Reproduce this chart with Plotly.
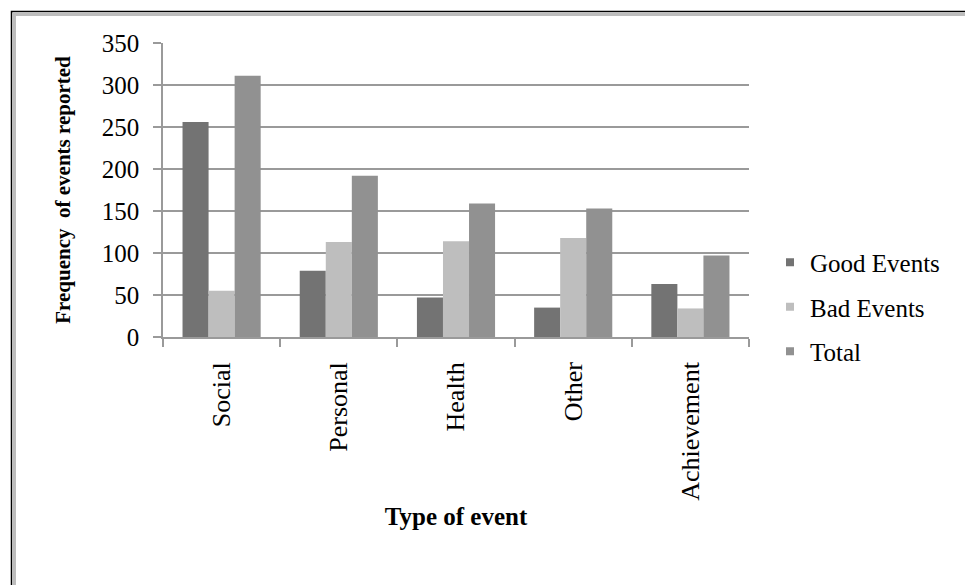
import plotly.graph_objects as go

categories = ["Social", "Personal", "Health", "Other", "Achievement"]
good_events = [256, 79, 47, 35, 63]
bad_events = [55, 113, 114, 118, 34]
total_events = [311, 192, 159, 153, 97]
series_names = ["Good Events", "Bad Events", "Total"]
series_colors = ["#737373", "#bebebe", "#919191"]
y_ticks = [0, 50, 100, 150, 200, 250, 300, 350]

W, H = 965, 585
L, R, T, B = 163, 216, 43, 248
pw, ph = W - L - R, H - T - B

def px_x(p):
    return (p - L) / pw

def px_y(p):
    return (H - B - p) / ph

FONT = "Liberation Serif, Times New Roman, serif"

fig = go.Figure()
for name, vals, col in zip(series_names, [good_events, bad_events, total_events], series_colors):
    fig.add_trace(go.Bar(x=categories, y=vals, name=name, marker_color=col,
                         marker_line_width=0, showlegend=False))
    fig.add_trace(go.Scatter(x=[None], y=[None], mode="markers", name=name,
                             legendgroup=name,
                             marker=dict(symbol="square", size=8, color=col)))

fig.update_layout(
    width=W, height=H,
    margin=dict(l=L, r=R, t=T, b=B, autoexpand=False),
    paper_bgcolor="white", plot_bgcolor="white",
    font=dict(family=FONT, size=20, color="black"),
    barmode="group", bargap=1/3, bargroupgap=0,
    legend=dict(x=px_x(770), xanchor="left", y=px_y(307), yanchor="middle",
                font=dict(family=FONT, size=25, color="black"),
                tracegroupgap=9, itemsizing="trace",
                bgcolor="rgba(0,0,0,0)"),
    xaxis=dict(
        showgrid=False, showline=True, linecolor="#9a9a9a", linewidth=1.5,
        ticks="outside", tickson="boundaries", ticklen=8, tickcolor="#9a9a9a", tickwidth=1.5,
        tickangle=-90, tickfont=dict(family=FONT, size=26),
        ticklabelstandoff=13,
        title=dict(text="<b>Type of event</b>", font=dict(family=FONT, size=25), standoff=8),
    ),
    yaxis=dict(
        range=[0, 350], tickvals=y_ticks,
        showgrid=True, gridcolor="#9a9a9a", gridwidth=1.5,
        showline=True, linecolor="#9a9a9a", linewidth=1.5,
        ticks="outside", ticklen=8, tickcolor="#9a9a9a", tickwidth=1.5,
        tickfont=dict(family=FONT, size=25),
        ticklabelstandoff=9,
        zeroline=False,
        title=dict(text="<b>Frequency  of events reported</b>", font=dict(family=FONT, size=21), standoff=25),
    ),
    shapes=[
        dict(type="rect", xref="paper", yref="paper",
             x0=px_x(11.5), x1=px_x(990), y0=px_y(610), y1=px_y(11.5),
             line=dict(color="black", width=1.5), fillcolor="rgba(0,0,0,0)", layer="below"),
        dict(type="rect", xref="paper", yref="paper",
             x0=px_x(14.5), x1=px_x(990), y0=px_y(610), y1=px_y(14.5),
             line=dict(color="#bdbdbd", width=3), fillcolor="rgba(0,0,0,0)", layer="below"),
    ],
)

fig.write_html("out.html", config={"displayModeBar": False},
               post_script="document.body.style.margin='0';document.body.style.padding='0';")
